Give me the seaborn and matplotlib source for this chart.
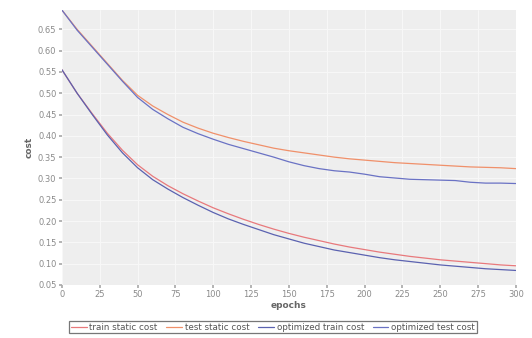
import matplotlib
matplotlib.use("Agg")
import matplotlib.pyplot as plt
import seaborn as sns
import pandas as pd

epochs = list(range(0, 301, 10))

train_static = [0.555, 0.500, 0.452, 0.406, 0.366, 0.332, 0.305, 0.283, 0.264, 0.247,
                0.231, 0.217, 0.204, 0.192, 0.181, 0.171, 0.162, 0.154, 0.146, 0.139,
                0.133, 0.127, 0.122, 0.117, 0.113, 0.109, 0.106, 0.103, 0.100, 0.097, 0.095]
test_static = [0.695, 0.650, 0.610, 0.570, 0.530, 0.495, 0.470, 0.450, 0.432, 0.418,
               0.406, 0.396, 0.387, 0.379, 0.371, 0.365, 0.360, 0.355, 0.350, 0.346,
               0.343, 0.340, 0.337, 0.335, 0.333, 0.331, 0.329, 0.327, 0.326, 0.325, 0.323]
opt_train = [0.555, 0.500, 0.450, 0.402, 0.360, 0.325, 0.297, 0.275, 0.255, 0.237,
             0.220, 0.205, 0.192, 0.180, 0.168, 0.158, 0.148, 0.140, 0.132, 0.126,
             0.120, 0.114, 0.109, 0.105, 0.101, 0.097, 0.094, 0.091, 0.088, 0.086, 0.084]
opt_test = [0.695, 0.648, 0.608, 0.568, 0.528, 0.490, 0.462, 0.440, 0.420, 0.405,
            0.392, 0.380, 0.370, 0.360, 0.350, 0.339, 0.330, 0.323, 0.318, 0.315,
            0.310, 0.304, 0.301, 0.298, 0.297, 0.296, 0.295, 0.291, 0.289, 0.289, 0.288]

series_names = ["train static cost", "test static cost", "optimized train cost", "optimized test cost"]
x_ticks = list(range(0, 301, 25))
y_ticks = [0.05, 0.10, 0.15, 0.20, 0.25, 0.30, 0.35, 0.40, 0.45, 0.50, 0.55, 0.60, 0.65]

rows = []
for name, vals in zip(series_names, [train_static, test_static, opt_train, opt_test]):
    for e, v in zip(epochs, vals):
        rows.append({"epochs": e, "cost": v, "series": name})
df = pd.DataFrame(rows)

sns.set_theme(style="darkgrid", rc={"axes.facecolor": "#eeeeee", "grid.color": "#f8f8f8",
                                     "grid.linewidth": 0.7})
plt.rcParams["font.family"] = ["DejaVu Sans"]

fig = plt.figure(figsize=(5.32, 3.38), dpi=100)
ax = fig.add_axes([0.1165, 0.157, 0.853, 0.813])
palette = {"train static cost": "#e8797c", "test static cost": "#f0906a",
           "optimized train cost": "#5b62b0", "optimized test cost": "#6a72c4"}
sns.lineplot(data=df, x="epochs", y="cost", hue="series", hue_order=series_names,
             palette=palette, linewidth=0.9, ax=ax, legend=True)
ax.set_xlim(0, 300)
ax.set_ylim(0.05, 0.695)
ax.set_xticks(x_ticks)
ax.set_xticklabels([str(t) for t in x_ticks])
ax.set_yticks(y_ticks)
ax.set_yticklabels([f"{t:.2f}" for t in y_ticks])
ax.tick_params(axis="both", labelsize=6, colors="#8a8a8a", length=2, pad=2)
ax.tick_params(axis="both", which="major", bottom=True, left=True, color="#aaaaaa")
ax.set_xlabel("epochs", fontsize=6.5, color="#666666", fontweight="bold", labelpad=1)
ax.set_ylabel("cost", fontsize=6.5, color="#666666", fontweight="bold", labelpad=3)
for s in ax.spines.values():
    s.set_visible(False)

handles, labels = ax.get_legend_handles_labels()
ax.legend(handles, labels, loc="upper center", bbox_to_anchor=(0.465, -0.115), ncol=4,
          fontsize=6.3, frameon=True, fancybox=False, edgecolor="#555555",
          handlelength=1.8, handletextpad=0.3, columnspacing=1.0, borderpad=0.2,
          labelcolor="#555555", facecolor="white")
ax.get_legend().get_frame().set_linewidth(0.9)

fig.savefig("out.png", dpi=100)
